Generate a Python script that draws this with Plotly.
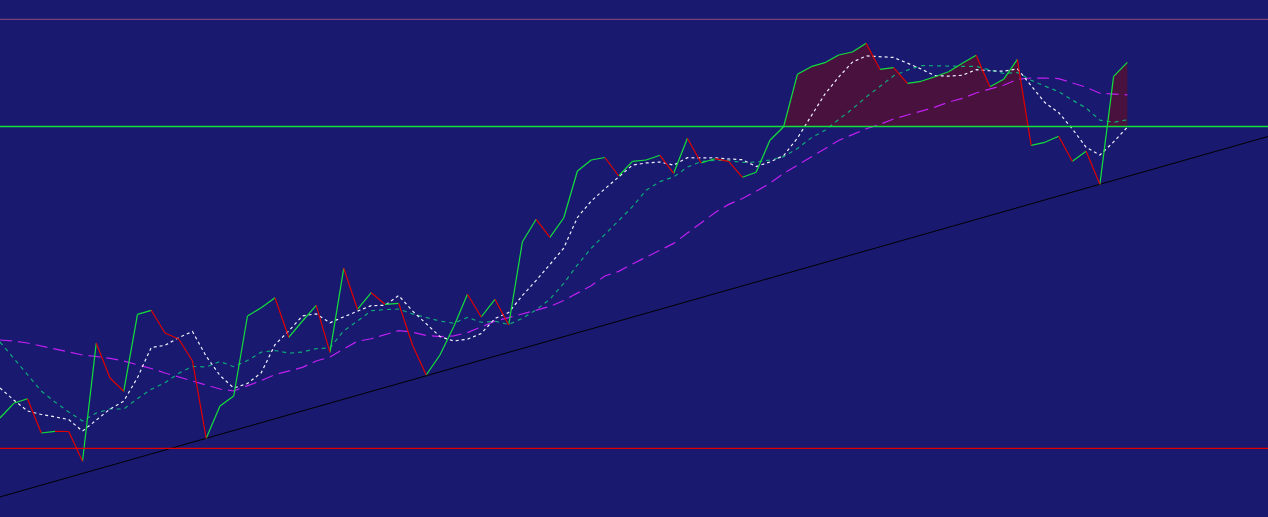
import numpy as np
import pandas as pd
import plotly.graph_objects as go

# ---- data ----
price = [99.0, 113.7, 118.3, 84.0, 85.7, 85.5, 55.7, 173.7, 139.0, 125.7,
         202.7, 206.7, 184.0, 178.0, 156.0, 78.7, 111.0, 121.0, 201.0, 209.3,
         219.3, 179.7, 196.0, 211.7, 164.7, 248.7, 207.7, 224.3, 212.7, 213.7,
         172.0, 142.0, 162.0, 190.3, 222.7, 200.0, 217.7, 192.0, 275.3, 297.7,
         279.7, 299.0, 346.0, 357.0, 359.5, 341.0, 355.7, 357.0, 361.7, 343.7,
         378.7, 354.0, 358.3, 355.7, 339.7, 344.7, 376.7, 390.3, 442.7, 450.3,
         454.3, 462.0, 465.0, 473.7, 447.7, 449.3, 433.7, 435.7, 440.3, 445.3,
         453.7, 461.7, 430.3, 437.7, 457.7, 371.7, 374.7, 380.7, 355.7, 365.7,
         332.7, 440.7, 454.7]

# moving-average values at the left edge (history before the visible window)
ma5_head = [129.0, 117.0, 106.0, 102.5]
ma10_head = [175.0, 159.0, 142.0, 126.0, 115.0, 105.0, 96.0, 104.0, 108.0]
ma20_head = [177.0, 176.0, 174.0, 171.0, 168.0, 165.5, 162.0, 160.5, 158.7, 156.0,
             152.5, 148.5, 144.0, 140.0, 136.0, 132.0, 128.0, 126.0, 131.0]

resistance_level = 390.5
support_level = 68.7
upper_level = 497.7
trend_anchor_idx = [15, 80]   # lows the trend line runs through
x_max = 92.23                 # visible index range

# ---- derived ----
n = len(price)
idx = np.arange(n)
p = np.array(price)

def sma(win, head):
    s = pd.Series(p).rolling(win).mean().to_numpy()
    s[:len(head)] = head
    return s

ma5 = sma(5, ma5_head)
ma10 = sma(10, ma10_head)
ma20 = sma(20, ma20_head)

# up / down segments
ux, uy, dx, dy = [], [], [], []
for i in range(n - 1):
    if p[i + 1] > p[i]:
        ux += [i, i + 1, None]; uy += [p[i], p[i + 1], None]
    else:
        dx += [i, i + 1, None]; dy += [p[i], p[i + 1], None]

# fill above resistance
fx, fy = [0.0], [max(p[0], resistance_level)]
for i in range(n - 1):
    a, b = p[i] - resistance_level, p[i + 1] - resistance_level
    if a * b < 0:
        t = a / (a - b)
        fx.append(i + t); fy.append(resistance_level)
    fx.append(i + 1); fy.append(max(p[i + 1], resistance_level))
fx += [n - 1, 0]; fy += [resistance_level, resistance_level]

a0, a1 = trend_anchor_idx
slope = (p[a1] - p[a0]) / (a1 - a0)
tx = [0, x_max]
ty = [p[a0] + (x - a0) * slope for x in tx]

BG = "#191970"
fig = go.Figure()
fig.add_trace(go.Scatter(x=fx, y=fy, fill="toself", fillcolor="#48113e",
                         line=dict(width=0), mode="lines", hoverinfo="skip"))
fig.add_trace(go.Scatter(x=tx, y=ty, mode="lines", line=dict(color="#000000", width=1)))
fig.add_trace(go.Scatter(x=idx, y=ma20, mode="lines",
                         line=dict(color="#c020f0", width=1.2, dash="12px,6px")))
fig.add_trace(go.Scatter(x=idx, y=ma10, mode="lines",
                         line=dict(color="#10a87a", width=1.2, dash="4px,4px")))
fig.add_trace(go.Scatter(x=idx, y=ma5, mode="lines",
                         line=dict(color="#f0f0ff", width=1.2, dash="3px,3px")))
fig.add_trace(go.Scatter(x=ux, y=uy, mode="lines", line=dict(color="#14e03c", width=1.2)))
fig.add_trace(go.Scatter(x=dx, y=dy, mode="lines", line=dict(color="#e00000", width=1.2)))

fig.add_hline(y=resistance_level, line=dict(color="#14e03c", width=1.3))
fig.add_hline(y=support_level, line=dict(color="#e00000", width=1.3))
fig.add_hline(y=upper_level, line=dict(color="#8e4a7e", width=1))

fig.update_layout(width=1268, height=517, margin=dict(l=0, r=0, t=0, b=0),
                  paper_bgcolor=BG, plot_bgcolor=BG, showlegend=False,
                  hovermode=False)
fig.update_xaxes(range=[0, x_max], visible=False, showgrid=False, zeroline=False)
fig.update_yaxes(range=[0, 517], visible=False, showgrid=False, zeroline=False)
fig.write_html("out.html",
               config={"displayModeBar": False},
               post_script="document.body.style.margin='0';"
                           "document.body.style.overflow='hidden';"
                           "document.body.style.background='" + BG + "';")
